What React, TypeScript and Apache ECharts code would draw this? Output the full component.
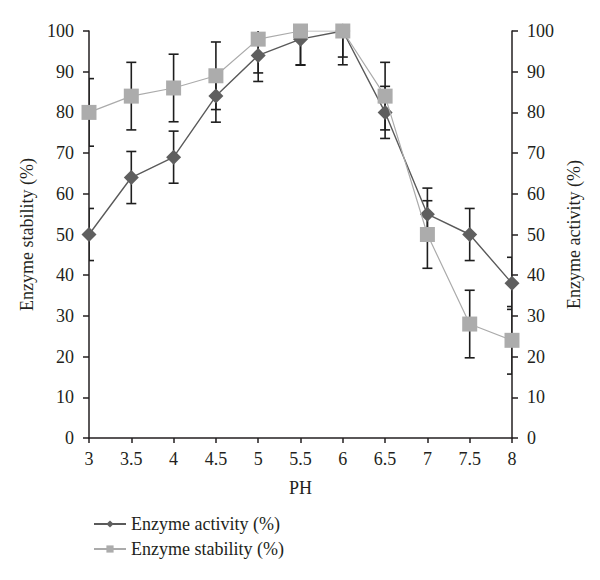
import React, { useEffect, useRef } from "react";
import * as echarts from "echarts";

const phLabels = ["3", "3.5", "4", "4.5", "5", "5.5", "6", "6.5", "7", "7.5", "8"];
const activity = [50, 64, 69, 84, 94, 98, 100, 80, 55, 50, 38];
const stability = [80, 84, 86, 89, 98, 100, 100, 84, 50, 28, 24];
const activityErr = [6.4, 6.4, 6.4, 6.4, 6.4, 6.4, 6.4, 6.4, 6.4, 6.4, 6.4];
const stabilityErr = [8.3, 8.3, 8.3, 8.3, 8.3, 8.3, 8.3, 8.3, 8.3, 8.3, 8.3];

const FONT = "Liberation Serif";
const TXT = "#231f20";
const FS = 18;

function errRender(params: any, api: any) {
  const i = api.value(0);
  const v = api.value(1);
  const e = api.value(2);
  const top = api.coord([i, v + e]);
  const bot = api.coord([i, v - e]);
  const h = 5;
  const style = { stroke: "#1e1e1e", lineWidth: 1.6 };
  return {
    type: "group",
    children: [
      { type: "line", shape: { x1: top[0], y1: top[1], x2: bot[0], y2: bot[1] }, style },
      { type: "line", shape: { x1: top[0] - h, y1: top[1], x2: top[0] + h, y2: top[1] }, style },
      { type: "line", shape: { x1: bot[0] - h, y1: bot[1], x2: bot[0] + h, y2: bot[1] }, style },
    ],
  };
}

export default function App() {
  const ref = useRef<HTMLDivElement>(null);
  useEffect(() => {
    if (!ref.current) return;
    const chart = echarts.init(ref.current, undefined, { renderer: "svg" });
    const yAxisBase = {
      type: "value",
      min: 0,
      max: 100,
      interval: 10,
      nameLocation: "middle",
      nameTextStyle: { fontFamily: FONT, fontSize: FS, color: TXT },
      axisLine: { show: true, lineStyle: { color: "#231f20", width: 1.5 } },
      axisTick: { show: true, inside: false, length: 6, lineStyle: { color: "#231f20", width: 1.5 } },
      axisLabel: { fontFamily: FONT, fontSize: FS, color: TXT, margin: 15 },
      splitLine: { show: false },
    };
    chart.setOption({
      animation: false,
      backgroundColor: "#ffffff",
      grid: { left: 89, right: 88, top: 31, bottom: 142 },
      legend: {
        orient: "vertical",
        left: 88,
        top: 510,
        itemWidth: 32,
        itemHeight: 9,
        itemGap: 7,
        textStyle: { fontFamily: FONT, fontSize: FS, color: TXT },
        data: ["Enzyme activity (%)", "Enzyme stability (%)"],
      },
      xAxis: {
        type: "category",
        data: phLabels,
        boundaryGap: false,
        name: "PH",
        nameLocation: "middle",
        nameGap: 41,
        nameTextStyle: { fontFamily: FONT, fontSize: FS, color: TXT },
        axisLine: { lineStyle: { color: "#231f20", width: 1.5 } },
        axisTick: { show: true, length: 5, alignWithLabel: true, lineStyle: { color: "#231f20", width: 1.5 } },
        axisLabel: { fontFamily: FONT, fontSize: FS, color: TXT, margin: 12 },
      },
      yAxis: [
        { ...yAxisBase, position: "left", nameGap: 51, name: "Enzyme stability (%)" },
        { ...yAxisBase, position: "right", nameGap: 45, name: "Enzyme activity (%)" },
      ],
      series: [
        {
          type: "custom",
          name: "activityErr",
          yAxisIndex: 1,
          clip: true,
          z: 1,
          renderItem: errRender,
          encode: { x: 0, y: 1 },
          data: activity.map((v, i) => [i, v, activityErr[i]]),
        },
        {
          type: "custom",
          name: "stabilityErr",
          yAxisIndex: 0,
          clip: true,
          z: 1,
          renderItem: errRender,
          encode: { x: 0, y: 1 },
          data: stability.map((v, i) => [i, v, stabilityErr[i]]),
        },
        {
          type: "line",
          name: "Enzyme activity (%)",
          yAxisIndex: 1,
          z: 3,
          data: activity,
          symbol: "diamond",
          symbolSize: 15,
          showAllSymbol: true,
          lineStyle: { color: "#5a5a5a", width: 1.4 },
          itemStyle: { color: "#5f5f5f", borderWidth: 0 },
        },
        {
          type: "line",
          name: "Enzyme stability (%)",
          yAxisIndex: 0,
          z: 4,
          data: stability,
          symbol: "rect",
          symbolSize: 15,
          showAllSymbol: true,
          lineStyle: { color: "#ababab", width: 1.2 },
          itemStyle: { color: "#acacac", borderWidth: 0 },
        },
      ],
    });
    return () => chart.dispose();
  }, []);
  return <div ref={ref} style={{ width: 600, height: 580, margin: -8 }} />;
}
